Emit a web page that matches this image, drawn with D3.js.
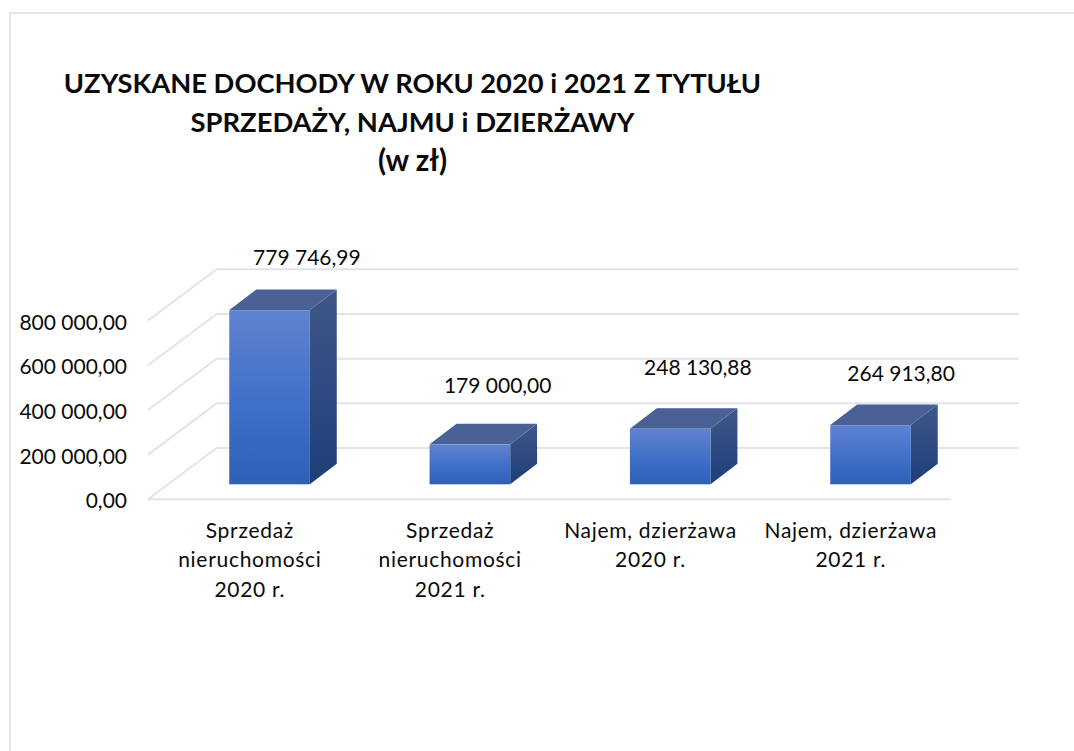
<!DOCTYPE html>
<html><head><meta charset="utf-8">
<script src="https://cdn.jsdelivr.net/npm/d3@7"></script>
<style>html,body{margin:0;padding:0;background:#fff}svg{display:block}text{font-family:Lato,"Open Sans",sans-serif;fill:#0a0a0a}</style>
</head><body><svg id="c" width="1074" height="751"></svg>
<script>
const titleLines = ["UZYSKANE DOCHODY W ROKU 2020 i 2021 Z TYTUŁU","SPRZEDAŻY, NAJMU i DZIERŻAWY","(w zł)"];
const categories = [["Sprzedaż","nieruchomości","2020 r."],["Sprzedaż","nieruchomości","2021 r."],["Najem, dzierżawa","2020 r."],["Najem, dzierżawa","2021 r."]];
const values = [779746.99,179000,248130.88,264913.80];
const valueLabels = ["779 746,99","179 000,00","248 130,88","264 913,80"];
const ticks = [0,200000,400000,600000,800000];
const tickLabels = ["0,00","200 000,00","400 000,00","600 000,00","800 000,00"];

const svg = d3.select("#c");
const y = d3.scaleLinear().domain([0,800000]).range([499.3,320.6]);
const x = d3.scaleBand().domain(d3.range(categories.length)).range([149.7,951]);
const backDx=68.7, backDy=-51.3, bw=80.6, depthDx=26.9, depthDy=-20.5, baseDx=19.7, baseDy=-15;
const labelDx=[57,47.5,47.3,50.3], labelY=[264.5,393.3,375,380.5];
const titleY=[92.5,131.5,171], titleSize=[27.3,27.4,29.5];

const defs=svg.append("defs");
function grad(id,x2,y2,stops){const g=defs.append("linearGradient").attr("id",id).attr("x1",0).attr("y1",0).attr("x2",x2).attr("y2",y2);
 stops.forEach(s=>g.append("stop").attr("offset",s[0]).attr("stop-color",s[1]));}
grad("front",0,1,[[0,"#6083cf"],[0.55,"#3f6fc8"],[1,"#2e60b8"]]);
grad("side",0,1,[[0,"#3f5888"],[1,"#1e3d7a"]]);

svg.append("path").attr("d","M10,751V13H1074").attr("fill","none").attr("stroke","#e2e6ee").attr("stroke-width",2);

const gridColor="#e2e4ec";
svg.append("g").selectAll("path").data(ticks).join("path")
 .attr("fill","none").attr("stroke",gridColor).attr("stroke-width",2)
 .attr("d",t=>{const y0=y(t);return `M148,${y0}L${148+backDx},${y0+backDy}H1019`;});
svg.append("path").attr("d",`M148,${y(0)}H951`).attr("fill","none").attr("stroke",gridColor).attr("stroke-width",2);

const bars=svg.append("g").selectAll("g").data(values).join("g");
const bx=i=>x(i)+x.bandwidth()/2+baseDx-bw/2;
const by0=y(0)+baseDy;
const bt=v=>y(v)+baseDy;
bars.append("path").attr("fill","url(#side)").attr("d",(v,i)=>`M${bx(i)+bw},${bt(v)}l${depthDx},${depthDy}V${by0+depthDy}L${bx(i)+bw},${by0}Z`);
bars.append("path").attr("fill","#4a6196").attr("d",(v,i)=>`M${bx(i)},${bt(v)}l${depthDx},${depthDy}h${bw}l${-depthDx},${-depthDy}Z`);
bars.append("rect").attr("fill","url(#front)").attr("x",(v,i)=>bx(i)).attr("y",v=>bt(v)).attr("width",bw).attr("height",v=>by0-bt(v));

svg.append("g").selectAll("text").data(valueLabels).join("text")
 .attr("text-anchor","middle").attr("font-size",21)
 .attr("x",(d,i)=>x(i)+x.bandwidth()/2+labelDx[i])
 .attr("y",(d,i)=>labelY[i]).text(d=>d);

svg.append("g").selectAll("text").data(tickLabels).join("text")
 .attr("text-anchor","end").attr("font-size",21).attr("x",127)
 .attr("y",(d,i)=>y(ticks[i])+8.9).text(d=>d);

categories.forEach((lines,i)=>{
 svg.append("g").selectAll("text").data(lines).join("text")
  .attr("text-anchor","middle").attr("font-size",21).attr("letter-spacing",0.7)
  .attr("x",x(i)+x.bandwidth()/2).attr("y",(d,k)=>537.5+k*29.6).text(d=>d);
});

svg.append("g").selectAll("text").data(titleLines).join("text")
 .attr("text-anchor","middle").attr("font-size",(d,i)=>titleSize[i]).attr("font-weight",700)
 .attr("x",412.5).attr("y",(d,i)=>titleY[i]).text(d=>d);
</script></body></html>
